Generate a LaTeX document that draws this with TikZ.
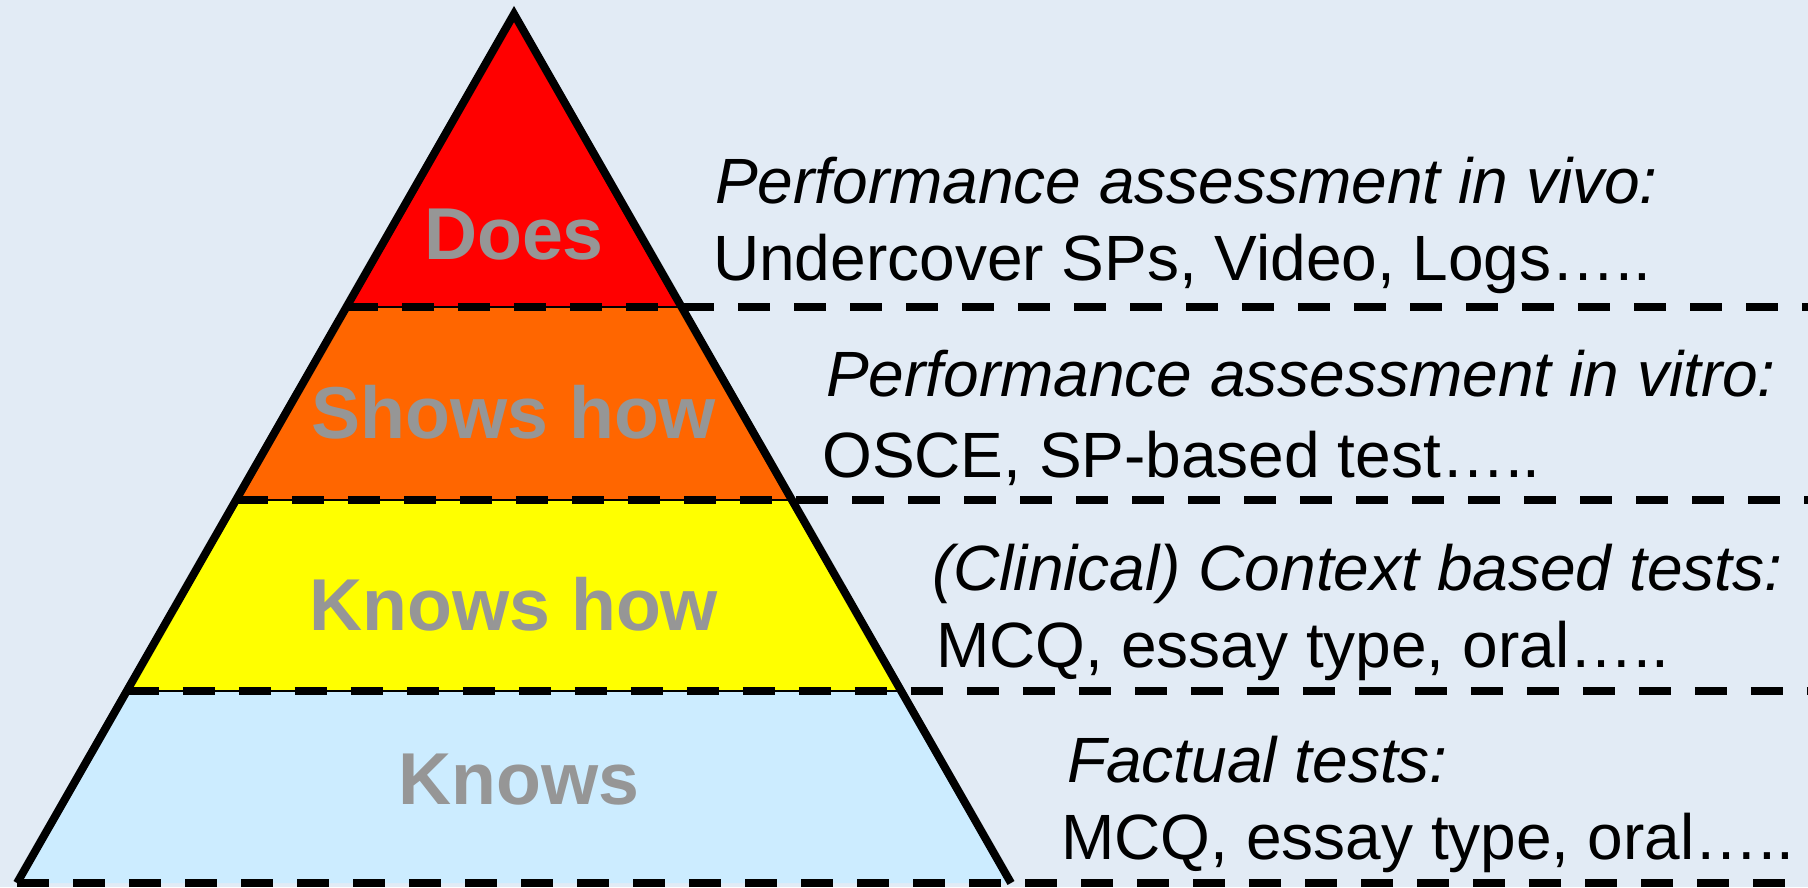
\documentclass[tikz,border=0pt]{standalone}
\usepackage{fontspec}
\setmainfont{Liberation Sans}
\usetikzlibrary{calc}
\definecolor{bg}{HTML}{E2EBF5}
\definecolor{cRed}{HTML}{FF0000}
\definecolor{cOrange}{HTML}{FF6600}
\definecolor{cYellow}{HTML}{FFFF00}
\definecolor{cBlue}{HTML}{CCECFF}
\definecolor{lvlgray}{HTML}{969696}
\begin{document}
\begin{tikzpicture}[x=1pt,y=-1pt,
  desc/.style={anchor=base west, inner sep=0pt, font=\fontsize{64}{70}\selectfont},
  desci/.style={anchor=base west, inner sep=0pt, font=\fontsize{64}{70}\selectfont\itshape},
  lvl/.style={anchor=base, inner sep=0pt, text=lvlgray, font=\fontsize{73.5}{80}\selectfont\bfseries},
  sepline/.style={line width=8pt, dash pattern=on 32pt off 24pt},
  thinline/.style={line width=2.5pt},
  outline/.style={line width=8pt, line join=miter}]
\fill[bg] (0,0) rectangle (1808,887);
\useasboundingbox (0,0) rectangle (1808,887);
\coordinate (apex) at (514,14);
\coordinate (bl) at (17,883);
\coordinate (br) at (1011,883);
\coordinate (edge) at (1808,0);
\coordinate (l1) at ($(apex)!0.3372!(bl)$);
\coordinate (r1) at ($(apex)!0.3372!(br)$);
\coordinate (l2) at ($(apex)!0.5593!(bl)$);
\coordinate (r2) at ($(apex)!0.5593!(br)$);
\coordinate (l3) at ($(apex)!0.7791!(bl)$);
\coordinate (r3) at ($(apex)!0.7791!(br)$);
% layers
\fill[cRed] (apex) -- (r1) -- (l1) -- cycle;
\fill[cOrange] (l1) -- (r1) -- (r2) -- (l2) -- cycle;
\fill[cYellow] (l2) -- (r2) -- (r3) -- (l3) -- cycle;
\fill[cBlue] (l3) -- (r3) -- (br) -- (bl) -- cycle;
% separators
\draw[thinline] (l1) -- (r1);
\draw[thinline] (l2) -- (r2);
\draw[thinline] (l3) -- (r3);
\draw[sepline] (l1) -- (l1 -| edge);
\draw[sepline] (l2) -- (l2 -| edge);
\draw[sepline] (l3) -- (l3 -| edge);
\draw[sepline] (bl) -- (bl -| edge);
% outline
\draw[outline] (bl) -- (apex) -- (br);
% level labels
\node[lvl] (does) at (514,259) {Does};
\node[lvl] (shows) at (514,438) {Shows how};
\node[lvl] (knowshow) at (514,630) {Knows how};
\node[lvl] (knows) at (519,804) {Knows};
% descriptions
\node[desci] (d1a) at (715,203) {Performance assessment in vivo:};
\node[desc] (d1b) at (713,280) {Undercover SPs, Video, Logs…..};
\node[desci] (d2a) at (826,396) {Performance assessment in vitro:};
\node[desc] (d2b) at (822,477) {OSCE, SP-based test…..};
\node[desci] (d3a) at (932,590) {(Clinical) Context based tests:};
\node[desc] (d3b) at (936,667) {MCQ, essay type, oral…..};
\node[desci] (d4a) at (1067,782) {Factual tests:};
\node[desc] (d4b) at (1061,859) {MCQ, essay type, oral…..};
\end{tikzpicture}
\end{document}
